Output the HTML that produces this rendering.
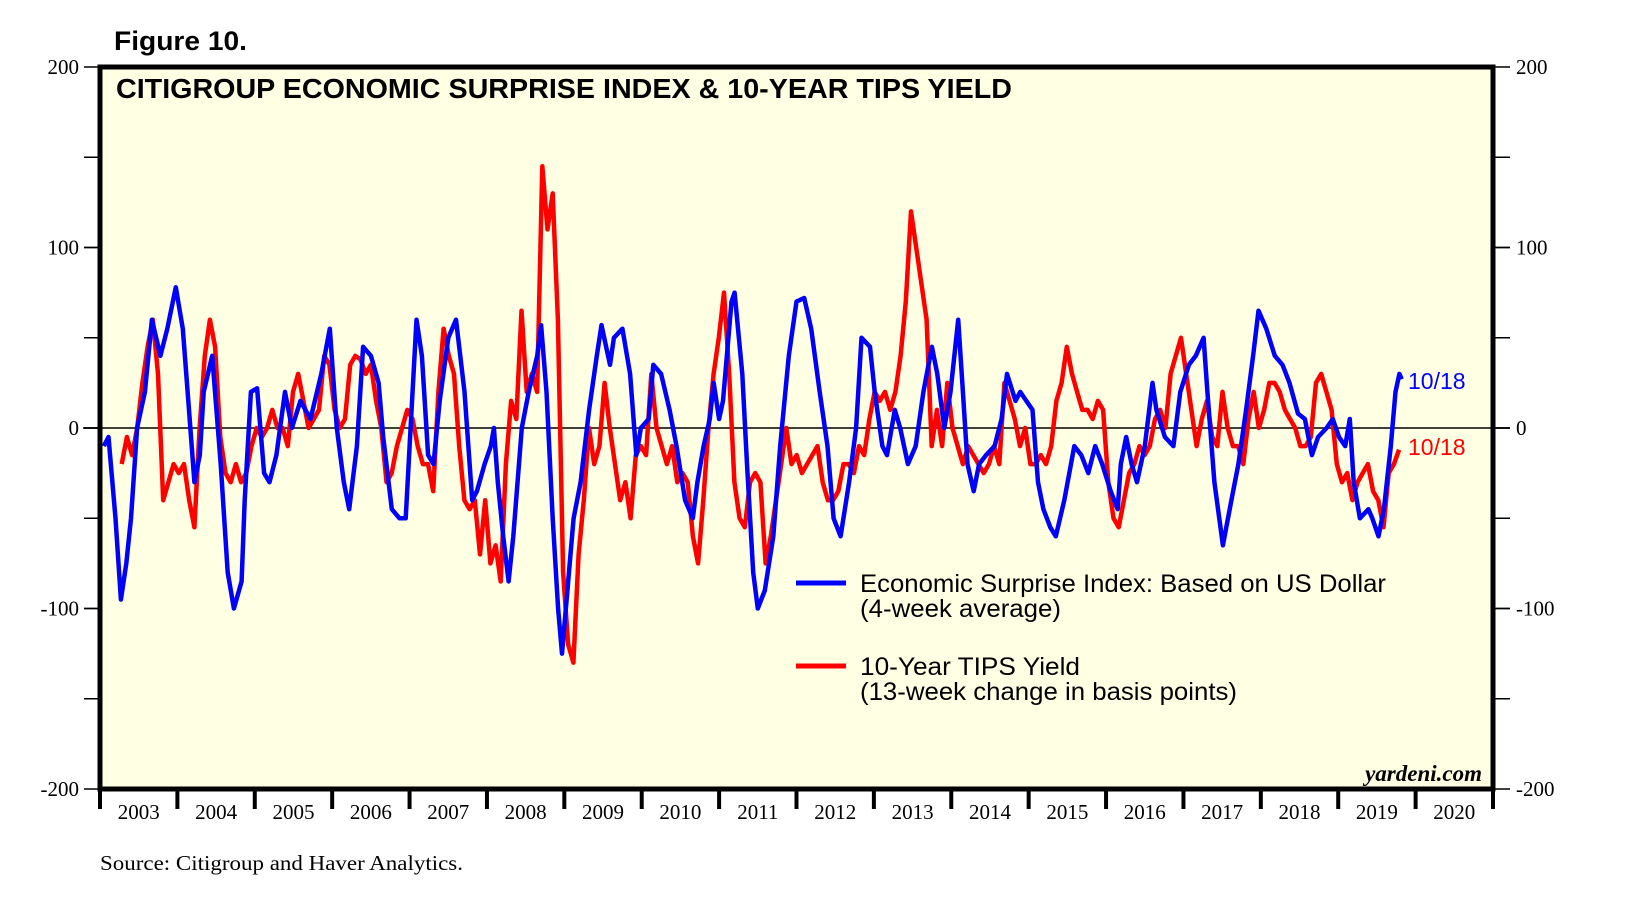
<!DOCTYPE html>
<html><head><meta charset="utf-8"><style>
html,body{margin:0;padding:0;background:#fff;}
svg{display:block;}
</style></head><body>
<svg id="chart" width="1626" height="916" xmlns="http://www.w3.org/2000/svg" font-family="Liberation Sans, sans-serif">
<text x="114" y="50" font-size="27" font-weight="bold" textLength="133" lengthAdjust="spacingAndGlyphs">Figure 10.</text>
<rect x="100" y="67" width="1393" height="722" fill="#ffffe4"/>
<g id="grid"></g>
<defs><clipPath id="clip"><rect x="100" y="67" width="1393" height="722"/></clipPath></defs>
<g id="series" clip-path="url(#clip)"></g>
<rect x="100" y="67" width="1393" height="722" fill="none" stroke="#000" stroke-width="5"/>
<text x="116" y="98" font-size="28" font-weight="bold" textLength="896" lengthAdjust="spacingAndGlyphs">CITIGROUP ECONOMIC SURPRISE INDEX &amp; 10-YEAR TIPS YIELD</text>
<g>
<line x1="796" y1="583" x2="846" y2="583" stroke="#0000ff" stroke-width="5"/>
<text x="860" y="592" font-size="25" textLength="526" lengthAdjust="spacingAndGlyphs">Economic Surprise Index: Based on US Dollar</text>
<text x="860" y="617" font-size="25" textLength="201" lengthAdjust="spacingAndGlyphs">(4-week average)</text>
<line x1="796" y1="666" x2="846" y2="666" stroke="#ff0000" stroke-width="5"/>
<text x="860" y="675" font-size="25" textLength="220" lengthAdjust="spacingAndGlyphs">10-Year TIPS Yield</text>
<text x="860" y="700" font-size="25" textLength="377" lengthAdjust="spacingAndGlyphs">(13-week change in basis points)</text>
</g>
<text x="1408" y="389" font-size="23" fill="#0000ff">10/18</text>
<text x="1408" y="455" font-size="23" fill="#ff0000">10/18</text>
<text x="1482" y="781" font-size="23" font-style="italic" font-weight="bold" font-family="Liberation Serif, serif" text-anchor="end">yardeni.com</text>
<text x="100" y="870" font-size="21" font-family="Liberation Serif, serif" textLength="363" lengthAdjust="spacingAndGlyphs">Source: Citigroup and Haver Analytics.</text>
</svg>
<script>
const yTicks = [200, 100, 0, -100, -200];
const yearLabels = ["2003","2004","2005","2006","2007","2008","2009","2010","2011","2012","2013","2014","2015","2016","2017","2018","2019","2020"];
const esiDates = [2003.05,2003.11,2003.20,2003.27,2003.34,2003.40,2003.48,2003.58,2003.67,2003.78,2003.87,2003.98,2004.07,2004.15,2004.22,2004.29,2004.34,2004.45,2004.56,2004.65,2004.73,2004.83,2004.87,2004.95,2005.03,2005.12,2005.19,2005.28,2005.39,2005.48,2005.59,2005.72,2005.86,2005.97,2006.06,2006.15,2006.22,2006.32,2006.40,2006.50,2006.60,2006.66,2006.77,2006.87,2006.95,2007.00,2007.09,2007.16,2007.24,2007.31,2007.39,2007.50,2007.60,2007.71,2007.81,2007.87,2007.97,2008.05,2008.09,2008.14,2008.21,2008.28,2008.34,2008.45,2008.54,2008.65,2008.70,2008.77,2008.85,2008.92,2008.97,2009.04,2009.12,2009.21,2009.32,2009.42,2009.48,2009.59,2009.64,2009.75,2009.85,2009.93,2009.99,2010.09,2010.15,2010.25,2010.36,2010.45,2010.56,2010.66,2010.72,2010.80,2010.88,2010.93,2011.00,2011.05,2011.16,2011.20,2011.30,2011.36,2011.44,2011.50,2011.59,2011.70,2011.79,2011.90,2012.00,2012.10,2012.19,2012.30,2012.40,2012.48,2012.57,2012.68,2012.77,2012.84,2012.95,2013.01,2013.11,2013.17,2013.27,2013.34,2013.44,2013.54,2013.64,2013.75,2013.82,2013.91,2013.99,2014.09,2014.15,2014.21,2014.29,2014.36,2014.45,2014.56,2014.65,2014.72,2014.83,2014.89,2015.05,2015.12,2015.19,2015.28,2015.35,2015.46,2015.59,2015.68,2015.77,2015.86,2015.95,2016.06,2016.15,2016.19,2016.26,2016.33,2016.40,2016.50,2016.60,2016.65,2016.76,2016.87,2016.96,2017.07,2017.16,2017.26,2017.31,2017.40,2017.51,2017.62,2017.71,2017.81,2017.90,2017.97,2018.07,2018.18,2018.28,2018.37,2018.48,2018.57,2018.66,2018.74,2018.85,2018.93,2019.01,2019.09,2019.15,2019.20,2019.28,2019.39,2019.44,2019.52,2019.59,2019.68,2019.74,2019.79,2019.82];
const esiValues = [-10,-5,-50,-95,-75,-50,0,20,60,40,55,78,55,10,-30,-15,20,40,-20,-80,-100,-85,-40,20,22,-25,-30,-15,20,0,15,5,30,55,0,-30,-45,-10,45,40,25,-5,-45,-50,-50,-10,60,40,-15,-20,15,50,60,20,-40,-35,-20,-10,0,-30,-60,-85,-60,0,20,40,57,20,-50,-100,-125,-90,-50,-30,10,40,57,35,50,55,30,-15,0,5,35,30,10,-10,-40,-50,-30,-10,5,25,5,15,70,75,30,-20,-80,-100,-90,-60,-10,40,70,72,55,20,-10,-50,-60,-30,0,50,45,20,-10,-15,10,0,-20,-10,20,45,30,0,20,60,20,-20,-35,-20,-15,-10,5,30,15,20,10,-30,-45,-55,-60,-40,-10,-15,-25,-10,-20,-35,-45,-20,-5,-20,-30,-10,25,10,-5,-10,20,35,40,50,20,-30,-65,-40,-20,10,40,65,55,40,35,25,8,5,-15,-5,0,5,-5,-10,5,-30,-50,-45,-50,-60,-45,-10,20,30,27];
const tipsStart = 2003.28;
const tipsStep = 0.0671;
const tipsValues = [-20,-5,-15,0,25,45,60,30,-40,-30,-20,-25,-20,-40,-55,0,40,60,45,-5,-25,-30,-20,-30,-25,-10,0,-5,0,10,0,0,-10,20,30,15,0,5,10,40,35,10,0,5,35,40,38,30,35,15,0,-30,-25,-10,0,10,5,-10,-20,-20,-35,20,55,40,30,-10,-40,-45,-40,-70,-40,-75,-65,-85,-20,15,5,65,20,30,20,145,110,130,60,-80,-120,-130,-70,-40,0,-20,-10,25,0,-20,-40,-30,-50,-15,-10,-15,30,0,-10,-20,-10,-30,-25,-30,-60,-75,-40,0,30,50,75,30,-30,-50,-55,-30,-25,-30,-75,-60,-40,-20,0,-20,-15,-25,-20,-15,-10,-30,-40,-40,-35,-20,-20,-25,-10,-15,5,20,15,20,10,20,40,70,120,100,80,60,-10,10,-10,25,0,-10,-20,-10,-15,-20,-25,-20,-10,-20,25,15,5,-10,0,-20,-20,-15,-20,-10,15,25,45,30,20,10,10,5,15,10,-30,-50,-55,-40,-25,-20,-10,-15,-10,5,10,0,30,40,50,30,10,-10,5,15,-5,-10,20,0,-10,-10,-20,5,20,0,10,25,25,20,10,5,0,-10,-10,-5,25,30,20,10,-20,-30,-25,-40,-30,-25,-20,-35,-40,-55,-25,-20,-12];

const NS = "http://www.w3.org/2000/svg";
const X0 = 100, X1 = 1493, Y0 = 67, Y1 = 789;
const xScale = d => X0 + (d - 2003) / 18 * (X1 - X0);
const yScale = v => Y1 - (v + 200) / 400 * (Y1 - Y0);
const grid = document.getElementById('grid');
const svg = document.getElementById('chart');
function mk(tag, attrs, parent) { const e = document.createElementNS(NS, tag); for (const k in attrs) e.setAttribute(k, attrs[k]); parent.appendChild(e); return e; }

const zl = mk('line', {x1: 83, x2: 1510, y1: yScale(0), y2: yScale(0), stroke: '#000', 'stroke-width': 1.5}, grid);



for (let v = -150; v <= 150; v += 50) {
  const y = yScale(v);
  const a = mk('line', {x1: 84, x2: 100, y1: y, y2: y, stroke: '#000', 'stroke-width': 1.5}, svg);
  
  
  const b = mk('line', {x1: 1493, x2: 1510, y1: y, y2: y, stroke: '#000', 'stroke-width': 1.5}, svg);
  
  
}
yTicks.forEach(v => {
  const y = yScale(v);
  [[84,100],[1493,1510]].forEach(p => {
    const t = mk('line', {x1: p[0], x2: p[1], y1: y, y2: y, stroke: '#000', 'stroke-width': 1.5}, svg);
    
    
  });
  const l = mk('text', {x: 79, y: y + 7, 'font-size': 21, 'text-anchor': 'end', 'font-family': 'Liberation Serif, serif'}, svg);
  l.textContent = String(v);
  
  
  const r = mk('text', {x: 1516, y: y + 7, 'font-size': 21, 'font-family': 'Liberation Serif, serif'}, svg);
  r.textContent = String(v);
  
  
});
for (let i = 0; i <= yearLabels.length; i++) {
  const x = xScale(2003 + i);
  const t = mk('line', {x1: x, x2: x, y1: Y1, y2: 809, stroke: '#000', 'stroke-width': 4}, svg);
  
  
}
yearLabels.forEach((lab, i) => {
  const t = mk('text', {x: xScale(2003 + i + 0.5), y: 819, 'font-size': 21, 'text-anchor': 'middle', 'font-family': 'Liberation Serif, serif'}, svg);
  t.textContent = lab;
  
  
});

const series = document.getElementById('series');
const tipsPts = tipsValues.map((v, i) => xScale(tipsStart + i * tipsStep).toFixed(1) + ',' + yScale(v).toFixed(1));
const tp = mk('polyline', {points: tipsPts.join(' '), fill: 'none', stroke: '#ff0000', 'stroke-width': 4.5, 'stroke-linejoin': 'round'}, series);


const esiPts = esiValues.map((v, i) => xScale(esiDates[i]).toFixed(1) + ',' + yScale(v).toFixed(1));
const ep = mk('polyline', {points: esiPts.join(' '), fill: 'none', stroke: '#0000ff', 'stroke-width': 4.5, 'stroke-linejoin': 'round'}, series);


</script>
</body></html>
